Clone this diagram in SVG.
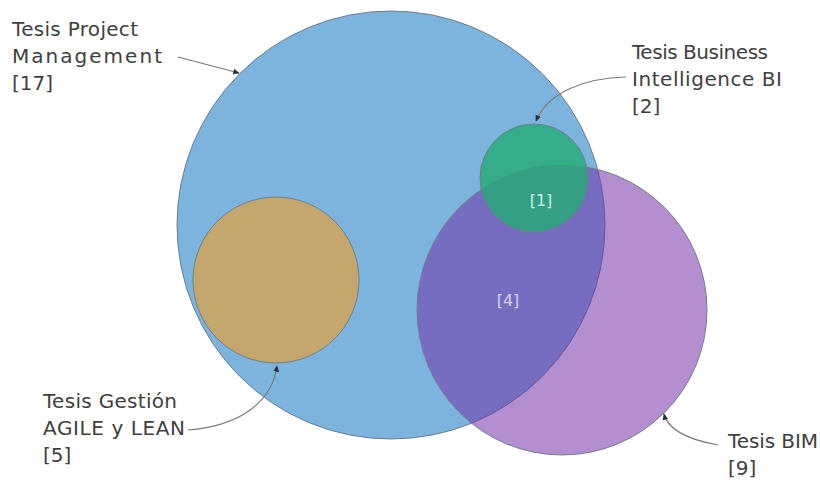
<svg xmlns="http://www.w3.org/2000/svg" width="820" height="482" viewBox="0 0 820 482">
  <style>
    .lbl { font-family: "DejaVu Sans", "Liberation Sans", sans-serif; font-size: 20px; fill: #404040; }
    .inner { font-family: "DejaVu Sans", "Liberation Sans", sans-serif; font-size: 16px; }
    .ring { stroke: #6e7f8e; stroke-width: 1; }
    .conn { fill: none; stroke: #7a7a7a; stroke-width: 1.2; }
  </style>
  <defs>
    <marker id="ah" viewBox="0 0 10 10" refX="8" refY="5" markerWidth="6" markerHeight="6" orient="auto">
      <path d="M0,1 L9,5 L0,9 z" fill="#2a3440"/>
    </marker>
  </defs>
  <rect width="820" height="482" fill="#ffffff"/>
  <g id="pm">
    <circle class="ring" cx="391" cy="225" r="214" fill="#7db4de"/>
  </g>
  <g id="agile">
    <circle class="ring" cx="276" cy="280" r="83" fill="#c5a66c"/>
  </g>
  <g id="bim">
    <circle class="ring" cx="562" cy="310" r="145" fill="#6f2ba7" fill-opacity="0.53"/>
  </g>
  <g id="bi">
    <circle class="ring" cx="534" cy="178" r="54" fill="#26ab76" fill-opacity="0.82"/>
  </g>
  <g id="connectors">
    <path class="conn" d="M178,57 L239,73" marker-end="url(#ah)"/>
    <path class="conn" d="M626,77 C585,78 548,92 536,121" marker-end="url(#ah)"/>
    <path class="conn" d="M188,430 C240,426 272,402 277,366" marker-end="url(#ah)"/>
    <path class="conn" d="M718,445 C690,440 668,430 664,414" marker-end="url(#ah)"/>
  </g>
  <g id="labels">
    <text class="lbl" x="12" y="36" textLength="126" lengthAdjust="spacing">Tesis Project</text>
    <text class="lbl" x="12" y="63" textLength="150" lengthAdjust="spacing">Management</text>
    <text class="lbl" x="12" y="90">[17]</text>
    <text class="lbl" x="632" y="59" textLength="136" lengthAdjust="spacing">Tesis Business</text>
    <text class="lbl" x="632" y="86" textLength="150" lengthAdjust="spacing">Intelligence BI</text>
    <text class="lbl" x="632" y="113">[2]</text>
    <text class="lbl" x="43" y="408" textLength="134" lengthAdjust="spacing">Tesis Gestión</text>
    <text class="lbl" x="43" y="435" textLength="142" lengthAdjust="spacing">AGILE y LEAN</text>
    <text class="lbl" x="43" y="462">[5]</text>
    <text class="lbl" x="728" y="448" textLength="90" lengthAdjust="spacing">Tesis BIM</text>
    <text class="lbl" x="728" y="475">[9]</text>
    <text class="inner" x="541" y="206" text-anchor="middle" fill="#c8f4ee">[1]</text>
    <text class="inner" x="508" y="306" text-anchor="middle" fill="#d8d2f2">[4]</text>
  </g>
</svg>
